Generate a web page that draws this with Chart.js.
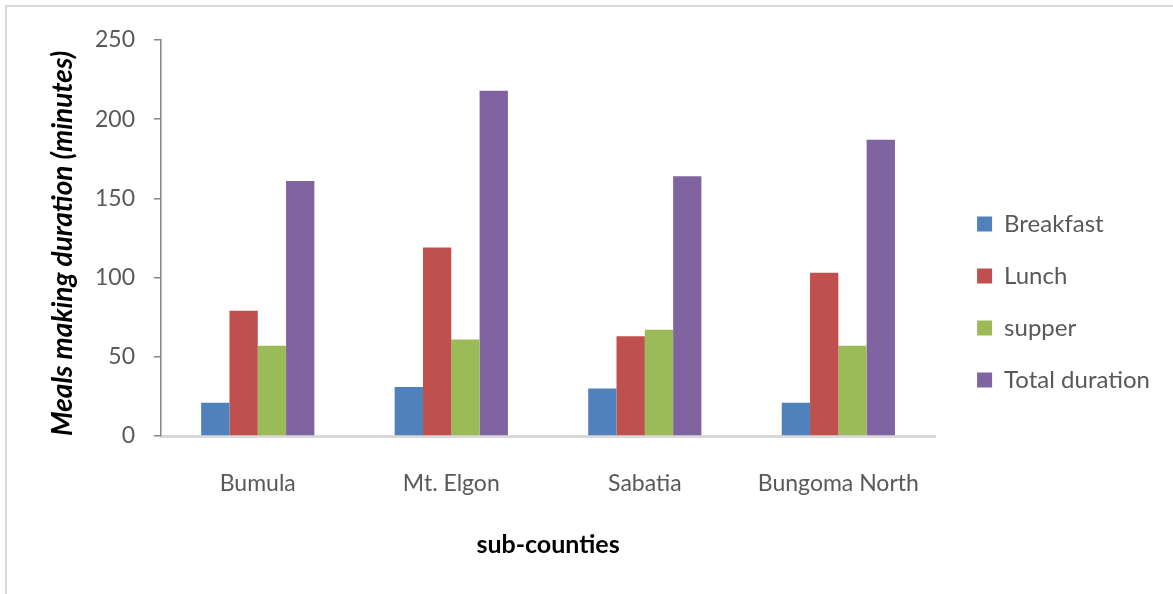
<!DOCTYPE html>
<html>
<head>
<meta charset="utf-8">
<title>Meals making duration by sub-county</title>
<script src="https://cdn.jsdelivr.net/npm/chart.js@4"></script>
<style>
  html, body { margin: 0; padding: 0; background: #ffffff; }
  #wrap { position: relative; width: 1173px; height: 594px; overflow: hidden; }
  #frame {
    position: absolute; left: 5px; top: 5px; right: -10px; bottom: -10px;
    border-left: 2px solid #d9d9d9; border-top: 2px solid #d9d9d9;
  }
  #chart { position: absolute; left: 0; top: 0; }
</style>
</head>
<body>
<div id="wrap">
  <div id="frame"></div>
  <canvas id="chart" width="1173" height="594"></canvas>
</div>
<script>
// Sub-counties on the category axis
const subCounties = ['Bumula', 'Mt. Elgon', 'Sabatia', 'Bungoma North'];

// Time spent preparing each meal (minutes)
const breakfast = [21, 31, 30, 21];
const lunch = [79, 119, 63, 103];
const supper = [57, 61, 67, 57];
const totalDuration = [161, 218, 164, 187];

// Value axis ticks
const yTicks = [0, 50, 100, 150, 200, 250];

const FONT = 'Lato, "Open Sans", "Noto Sans", sans-serif';
const TICK_COLOR = '#595959';

const series = [
  { label: 'Breakfast', data: breakfast, color: '#4f81bd' },
  { label: 'Lunch', data: lunch, color: '#c0504d' },
  { label: 'supper', data: supper, color: '#9bbb59' },
  { label: 'Total duration', data: totalDuration, color: '#8064a2' }
];

new Chart(document.getElementById('chart'), {
  type: 'bar',
  data: {
    labels: subCounties,
    datasets: series.map(s => ({
      label: s.label,
      data: s.data,
      backgroundColor: s.color,
      borderColor: s.color,
      borderWidth: 0,
      barPercentage: 1.0,
      categoryPercentage: 0.585
    }))
  },
  options: {
    responsive: false,
    animation: false,
    devicePixelRatio: 1,
    layout: { padding: { left: 0, top: 40, right: 13, bottom: 30 } },
    plugins: {
      tooltip: { enabled: false },
      legend: {
        position: 'right',
        align: 'center',
        maxWidth: 400,
        labels: {
          boxWidth: 15,
          boxHeight: 15,
          padding: 28,
          color: TICK_COLOR,
          font: { family: FONT, size: 24 }
        }
      }
    },
    scales: {
      x: {
        grid: { display: false, drawTicks: false },
        border: { display: true, color: '#d9d9d9', width: 3 },
        ticks: {
          color: TICK_COLOR,
          padding: 34,
          maxRotation: 0,
          autoSkip: false,
          font: { family: FONT, size: 23 }
        },
        title: {
          display: true,
          text: 'sub-counties',
          color: '#000000',
          padding: { top: 0, bottom: 4 },
          font: { family: FONT, size: 25, weight: 'bold' }
        },
        afterFit(scale) { scale.height = 128; }
      },
      y: {
        min: 0,
        max: 250,
        afterBuildTicks(scale) { scale.ticks = yTicks.map(v => ({ value: v })); },
        grid: {
          display: true,
          drawOnChartArea: false,
          drawTicks: true,
          tickLength: 7,
          color: '#868686',
          lineWidth: 1.5
        },
        border: { display: true, color: '#868686', width: 1.5 },
        ticks: {
          color: TICK_COLOR,
          padding: 19,
          font: { family: FONT, size: 23 }
        },
        title: {
          display: true,
          align: 'start',
          text: 'Meals making duration (minutes)',
          color: '#000000',
          padding: { top: 46, bottom: 0 },
          font: { family: FONT, size: 28, weight: 'bold', style: 'italic' }
        },
        afterFit(scale) { scale.width = 161; }
      },
      // thin spacer between the plot and the legend
      spacer: {
        type: 'linear',
        position: 'right',
        display: true,
        grid: { display: false, drawTicks: false },
        border: { display: false },
        ticks: { display: false },
        afterFit(scale) { scale.width = 14; }
      }
    }
  }
});
</script>
</body>
</html>
